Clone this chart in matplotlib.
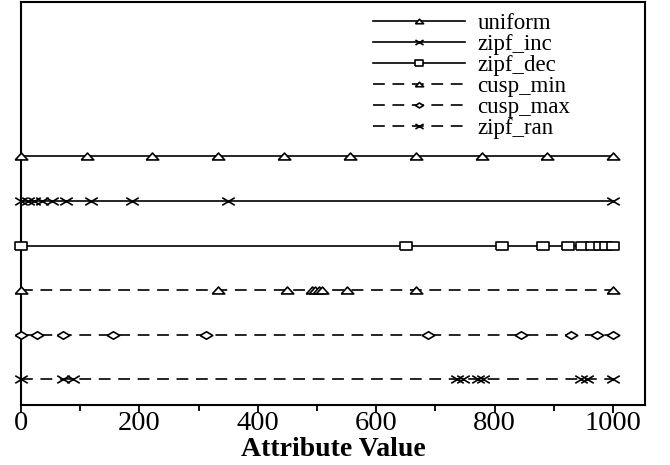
import matplotlib
matplotlib.use("Agg")
import matplotlib.pyplot as plt
from matplotlib.path import Path
from matplotlib.ticker import MultipleLocator

plt.rcParams['font.family'] = ['Liberation Serif', 'DejaVu Serif']
plt.rcParams['lines.scale_dashes'] = False

# -- data --
series_names = ["uniform", "zipf_inc", "zipf_dec", "cusp_min", "cusp_max", "zipf_ran"]
uniform = [0, 111, 222, 333, 444, 556, 667, 778, 889, 1000]
zipf_inc = [0, 13, 23, 36, 52, 77, 118, 188, 350, 1000]
zipf_dec = [0, 650, 812, 882, 923, 948, 964, 977, 987, 1000]
cusp_min = [0, 333, 449, 492, 497, 503, 508, 551, 667, 1000]
cusp_max = [0, 27, 72, 155, 313, 687, 845, 928, 973, 1000]
zipf_ran = [0, 72, 88, 737, 746, 772, 781, 946, 956, 1000]
levels = [6, 5, 4, 3, 2, 1]

# flattened markers like the original
tri = Path([(-1, -0.55), (1, -0.55), (0, 0.55), (-1, -0.55)])
sq = Path([(-1, -0.65), (1, -0.65), (1, 0.65), (-1, 0.65), (-1, -0.65)])
dia = Path([(-1, 0), (0, 0.6), (1, 0), (0, -0.6), (-1, 0)])
cross = Path([(-1, -0.6), (1, 0.6), (-1, 0.6), (1, -0.6)],
             [Path.MOVETO, Path.LINETO, Path.MOVETO, Path.LINETO])

dash = (0, (8.5, 5.5))
styles = [
    ("-", tri, "white"),
    ("-", cross, "none"),
    ("-", sq, "white"),
    (dash, tri, "white"),
    (dash, dia, "white"),
    (dash, cross, "none"),
]

fig = plt.figure(figsize=(6.7, 4.65), dpi=100)
ax = fig.add_axes([0.031, 0.129, 0.932, 0.867])

all_series = [uniform, zipf_inc, zipf_dec, cusp_min, cusp_max, zipf_ran]
for name, vals, lev, (ls, mk, fc) in zip(series_names, all_series, levels, styles):
    ax.plot(vals, [lev] * len(vals), linestyle=ls, color='black', linewidth=1.2,
            marker=mk, markersize=9, markerfacecolor=fc, markeredgecolor='black',
            markeredgewidth=1.2, clip_on=False, label=name, zorder=3)

ax.set_xlim(0, 1054)
ax.set_ylim(0.42, 9.47)
ax.set_yticks([])
ax.xaxis.set_major_locator(MultipleLocator(200))
ax.xaxis.set_minor_locator(MultipleLocator(100))
ax.tick_params(axis='x', which='major', length=6, width=1.3, labelsize=20.5, pad=-1.5)
ax.tick_params(axis='x', which='minor', length=4, width=1.3)
for sp in ax.spines.values():
    sp.set_linewidth(1.5)

ax.set_xlabel("Attribute Value", fontsize=20, fontweight='bold', va='center')
ax.xaxis.set_label_coords(0.5, -0.11)

ax.legend(loc='upper left', bbox_to_anchor=(0.557, 0.972),
          bbox_transform=fig.transFigure, frameon=False, fontsize=16.5,
          handlelength=4.0, labelspacing=0.0, markerscale=0.65,
          handletextpad=0.55, borderpad=0, borderaxespad=0)

fig.savefig("out.png", dpi=100)
